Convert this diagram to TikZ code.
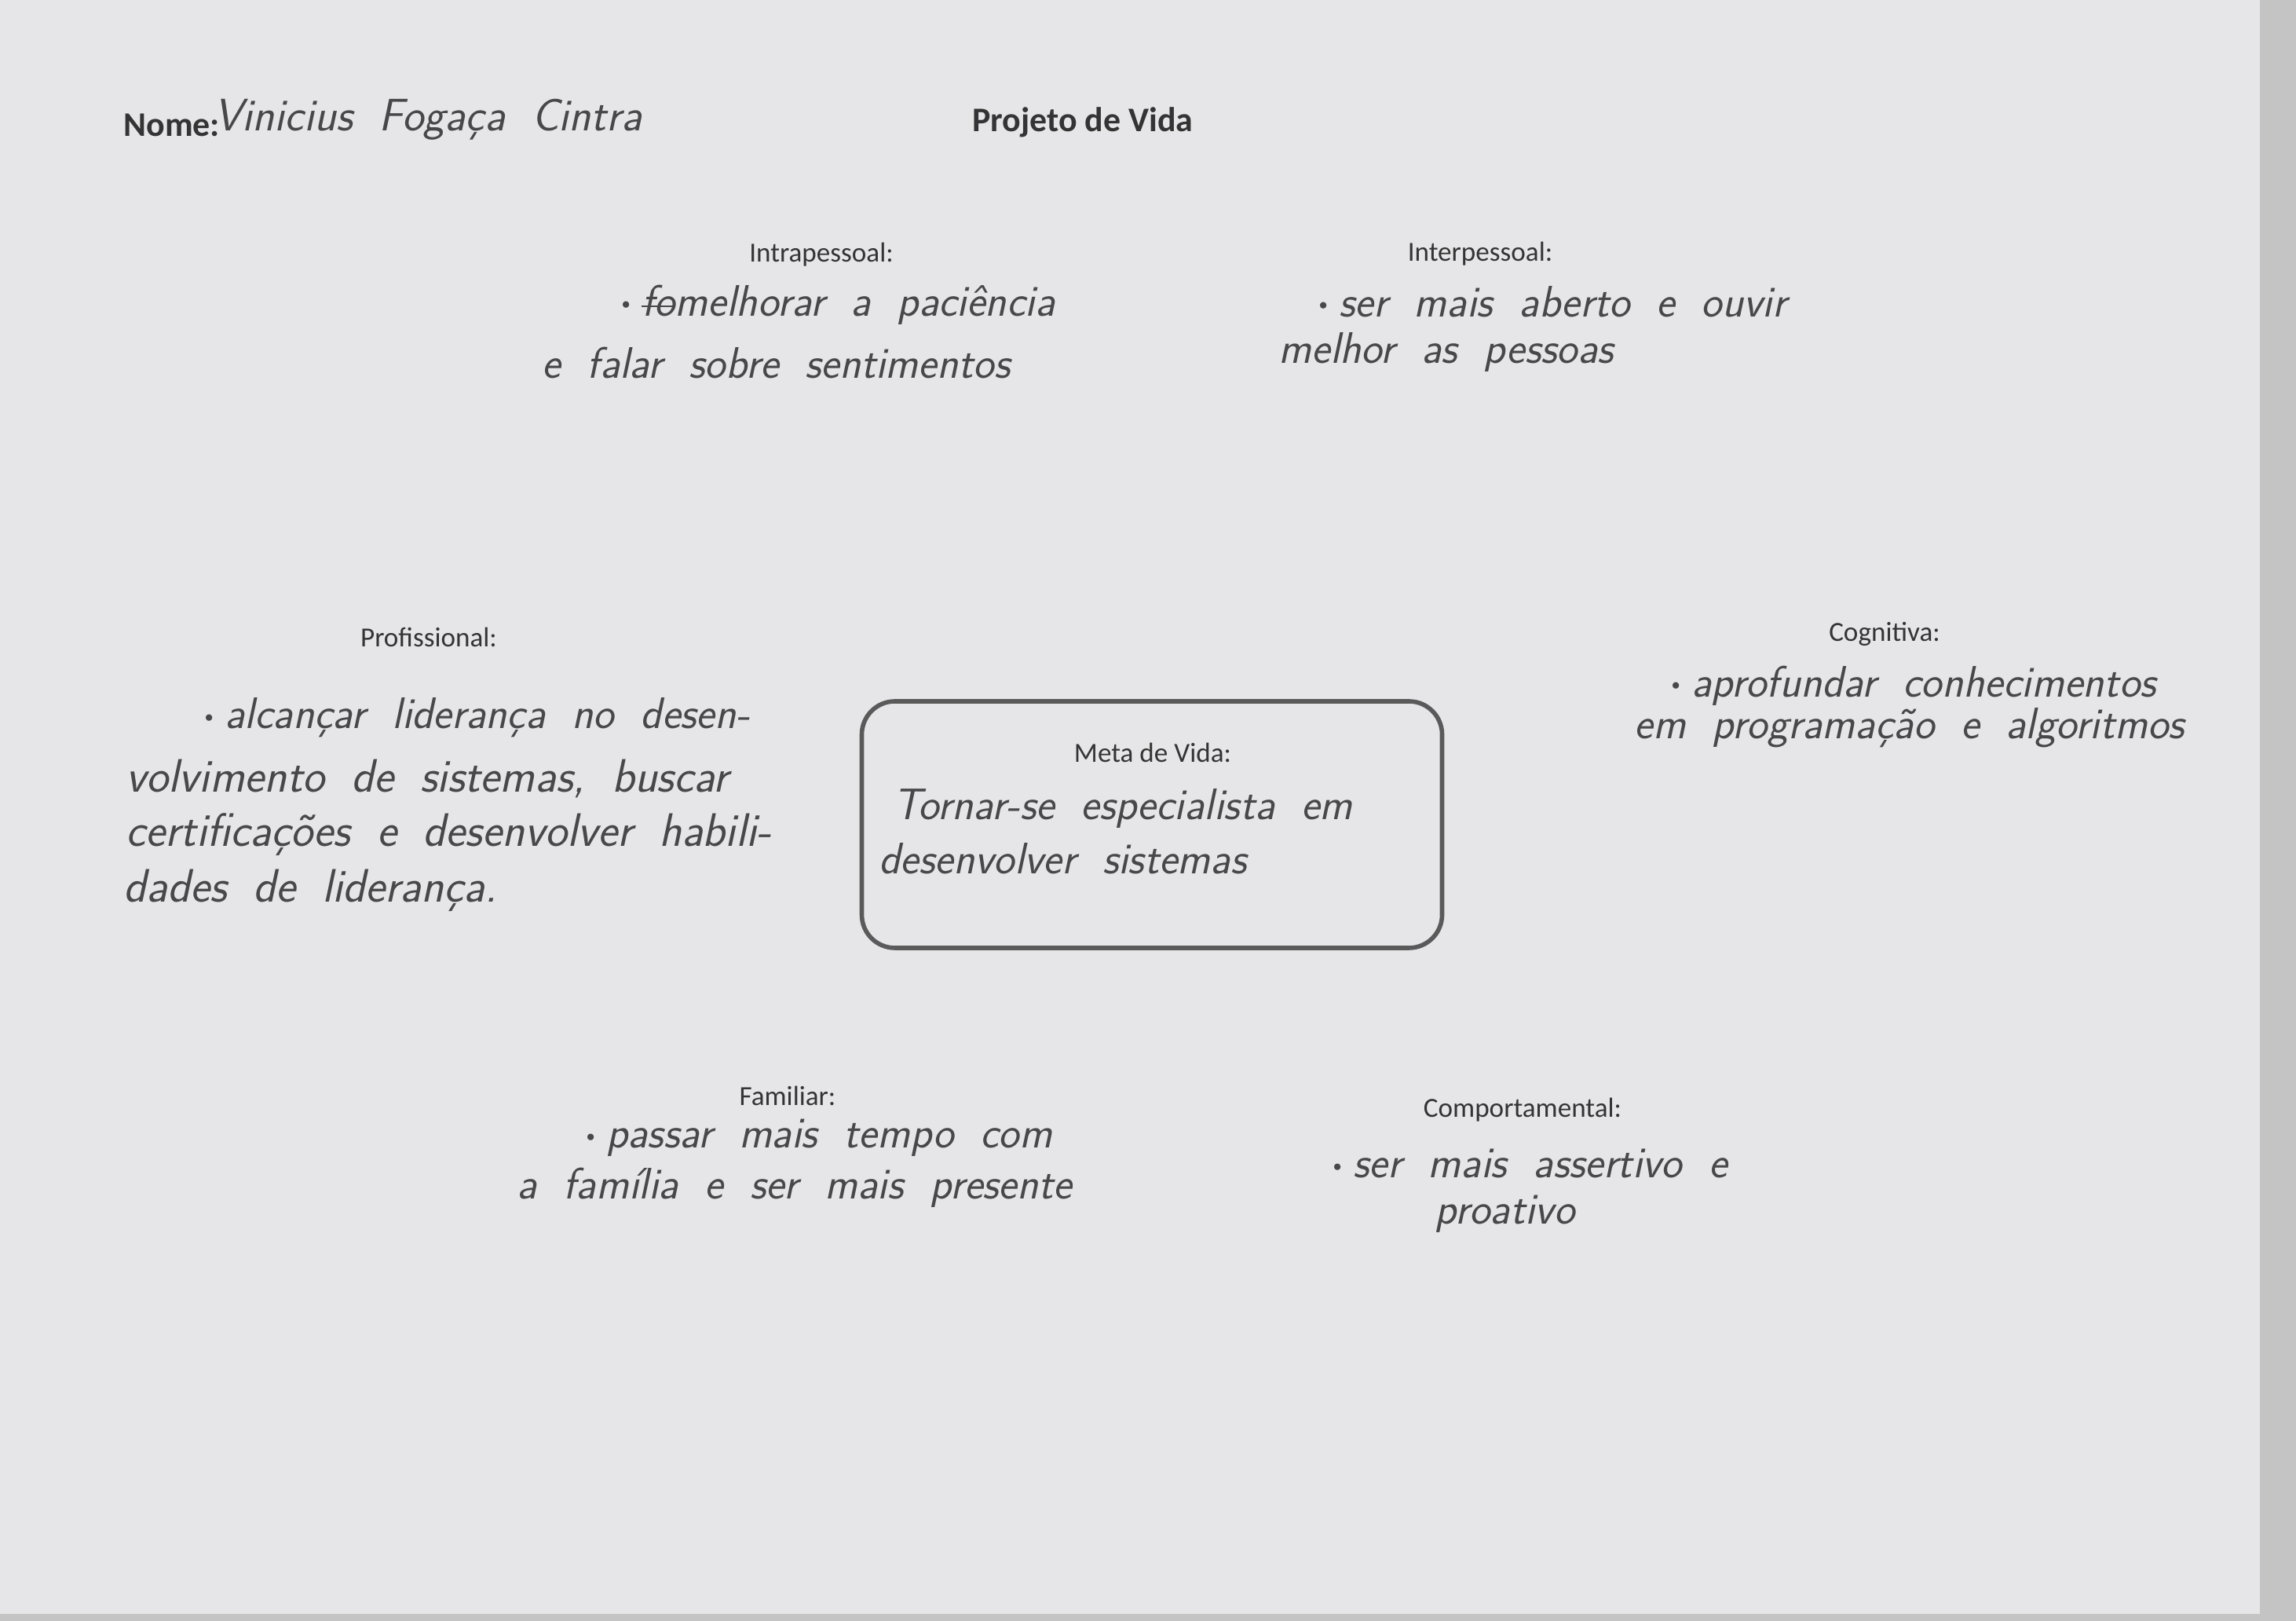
\documentclass[tikz,border=0pt]{standalone}
\usepackage{fontspec}
\usepackage{tikz}
\newfontfamily\impresso{Carlito}
\definecolor{papel}{RGB}{230,230,232}
\definecolor{fundo}{RGB}{196,196,196}
\definecolor{tinta}{RGB}{52,52,52}
\definecolor{grafite}{RGB}{72,72,74}
\definecolor{borda}{RGB}{90,90,90}
\newcommand{\riscado}[1]{\setbox0=\hbox{#1}\rlap{\copy0}\rule[0.45ex]{\wd0}{0.7pt}}
\newcommand{\maoescrita}{\sffamily\slshape\fontsize{16}{19}\selectfont\spaceskip=0.6em\relax}
\newcommand{\ponto}{\raisebox{0.3ex}{\upshape\rmfamily\fontsize{8}{8}\selectfont\textbullet}\kern0.15em}

\begin{document}
\begin{tikzpicture}[x=1cm, y=1cm,
  titulo/.style={font=\impresso\bfseries\fontsize{12.5}{15}\selectfont, text=tinta},
  rotulo/.style={font=\impresso\fontsize{10}{12}\selectfont, text=tinta},
  escrita/.style={font=\maoescrita, text=grafite, inner sep=0pt, anchor=west},
  escritamaior/.style={escrita, font=\maoescrita\fontsize{17}{20}\selectfont},
  caixa/.style={draw=borda, line width=1.6pt, rounded corners=12pt, minimum width=7.39cm, minimum height=3.14cm},]
\fill[fundo] (0,0) rectangle (29.24,20.64);
\fill[papel] (0,0.09) rectangle (28.78,20.64);
\useasboundingbox (0,0) rectangle (29.24,20.64);
\node[titulo, anchor=west] (nome) at (1.45, 19.05) {Nome:};
\node[escrita, font=\maoescrita\fontsize{16.5}{20}\selectfont] (aluno) at (2.72, 19.12) {Vinicius Fogaça Cintra};
\node[titulo] (projeto) at (13.79, 19.08) {Projeto de Vida};
\node[rotulo] (intra) at (10.46, 17.40) {Intrapessoal:};
\node[escrita] (intra1) at (7.85, 16.76) {\ponto\riscado{fo}melhorar a paciência};
\node[escrita] (intra2) at (6.90, 16.02) {e falar sobre sentimentos};
\node[rotulo] (inter) at (18.85, 17.41) {Interpessoal:};
\node[escrita] (inter1) at (16.73, 16.80) {\ponto ser mais aberto e ouvir};
\node[escrita] (inter2) at (16.28, 16.16) {melhor as pessoas};
\node[rotulo] (prof) at (5.46, 12.53) {Profissional:};
\node[escrita] (prof1) at (2.54, 11.50) {\ponto alcançar liderança no desen-};
\node[escritamaior] (prof2) at (1.60, 10.72) {volvimento de sistemas, buscar};
\node[escritamaior] (prof3) at (1.60, 10.01) {certificações e desenvolver habili-};
\node[escritamaior] (prof4) at (1.57, 9.30) {dades de liderança.};
\node[caixa] (meta) at (14.67, 10.14) {};
\node[rotulo] (metatit) at (14.68, 11.06) {Meta de Vida:};
\node[escrita] (meta1) at (11.37, 10.35) {Tornar-se especialista em};
\node[escrita] (meta2) at (11.19, 9.71) {desenvolver sistemas};
\node[rotulo] (cogn) at (24.00, 12.57) {Cognitiva:};
\node[escrita] (cogn1) at (21.22, 11.91) {\ponto aprofundar conhecimentos};
\node[escrita] (cogn2) at (20.81, 11.37) {em programação e algoritmos};
\node[rotulo] (fam) at (10.03, 6.69) {Familiar:};
\node[escrita] (fam1) at (7.40, 6.15) {\ponto passar mais tempo com};
\node[escrita] (fam2) at (6.58, 5.52) {a família e ser mais presente};
\node[rotulo] (comp) at (19.39, 6.51) {Comportamental:};
\node[escrita] (comp1) at (16.91, 5.82) {\ponto ser mais assertivo e};
\node[escrita] (comp2) at (18.27, 5.18) {proativo};
\end{tikzpicture}
\end{document}
